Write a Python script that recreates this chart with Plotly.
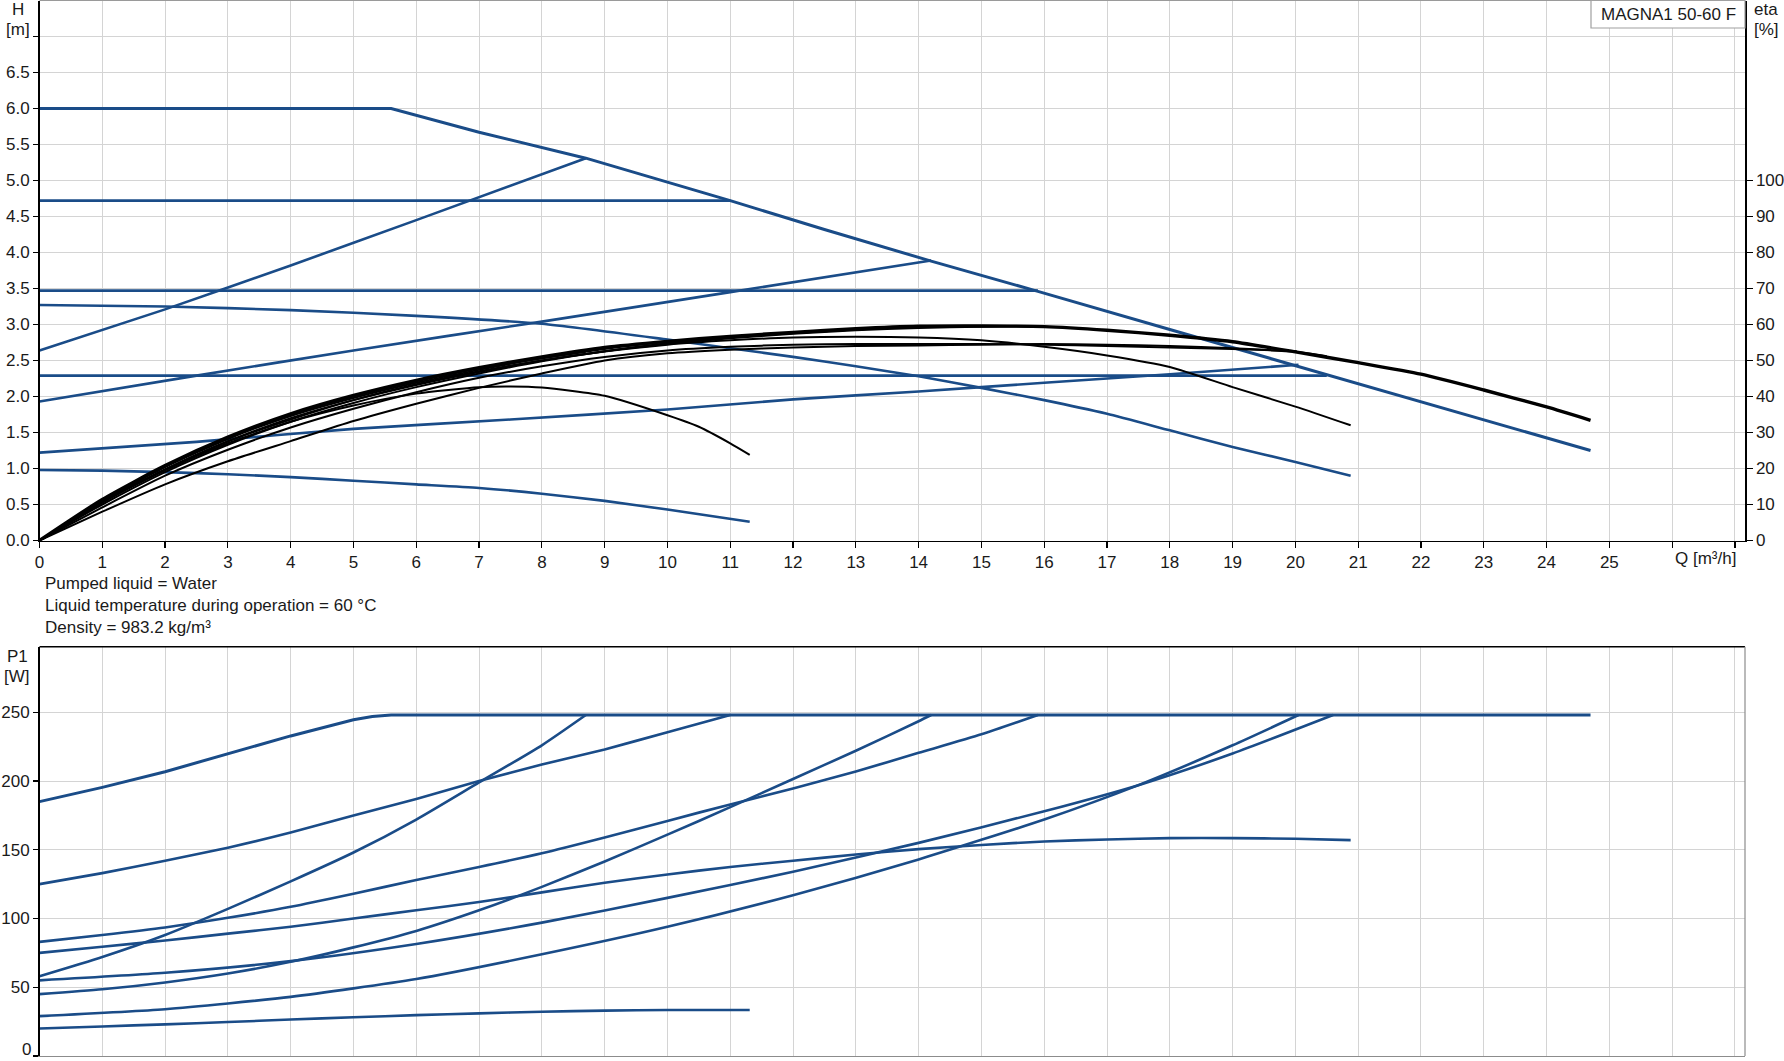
import plotly.graph_objects as go

W, H = 1784, 1061
BLUE = "#1a4c88"
GRID = "#d4d4d4"
FONT = "Arial, Liberation Sans, sans-serif"
FS = 17

# ---------------- H-Q curves (m) ----------------
q_max = [0, 5.6, 7, 8.7, 11, 12.5, 14.2, 15.9, 18, 20, 22, 24.7]
h_max = [6.0, 6.0, 5.67, 5.31, 4.72, 4.32, 3.88, 3.46, 2.93, 2.43, 1.93, 1.25]

q_c472 = [0, 11.0]
h_c472 = [4.72, 4.72]
q_c347 = [0, 15.9]
h_c347 = [3.47, 3.47]
q_c229 = [0, 20.5]
h_c229 = [2.29, 2.29]

q_pa = [0, 2, 4, 6, 8.7]
h_pa = [2.64, 3.21, 3.82, 4.45, 5.31]
q_pb = [0, 2.5, 5, 8, 11, 14.2]
h_pb = [1.93, 2.29, 2.64, 3.04, 3.45, 3.89]
q_pc = [0, 2.5, 5, 7.5, 10, 12, 14, 16, 18, 20.05]
h_pc = [1.22, 1.37, 1.55, 1.68, 1.82, 1.96, 2.07, 2.19, 2.31, 2.44]

q_d = [0, 2, 4, 6, 8, 10, 11, 12, 13, 14, 15, 16, 17, 18, 19, 20, 20.88]
h_d = [3.27, 3.25, 3.2, 3.12, 3.01, 2.79, 2.67, 2.55, 2.42, 2.28, 2.12, 1.95, 1.76, 1.53, 1.30, 1.09, 0.90]

q_e = [0, 1, 2, 3, 4, 5, 6, 7, 8, 9, 10, 11.31]
h_e = [0.98, 0.97, 0.95, 0.92, 0.88, 0.83, 0.78, 0.73, 0.65, 0.55, 0.43, 0.26]

# ---------------- efficiency curves (%) ----------------
q_eta1 = [0, 1, 2, 3, 4, 5, 6, 7, 8, 9, 10, 11, 12, 13, 14, 15, 16, 17, 18, 19, 20, 21, 22, 23, 24, 24.7]
eta1 = [0, 11.4, 20.8, 28.7, 35.2, 40.3, 44.5, 48, 51, 53.6, 55.3, 56.7, 57.8, 58.8, 59.5, 59.6, 59.4, 58.4, 57, 55.2, 52.4, 49.4, 46.2, 41.8, 37.1, 33.4]
q_eta2 = [0, 1, 2, 3, 4, 5, 6, 7, 7.5, 8, 9, 10, 10.5, 11, 11.31]
eta2 = [0, 10.5, 19.5, 27, 33, 37.5, 40.8, 42.6, 42.8, 42.5, 40.2, 34.8, 31.6, 27, 23.8]
q_eta3 = [0, 1, 2, 3, 4, 5, 6, 7, 8, 9, 10, 11, 12, 13, 14, 15, 16, 17, 18, 19, 20, 20.88]
eta3 = [0, 10.8, 19.6, 27.5, 33.6, 39, 43.4, 47, 50, 52.5, 54.4, 55.6, 56.4, 56.6, 56.4, 55.6, 53.8, 51.4, 48.2, 42.6, 37.2, 32]
q_eta4 = [0, 1, 2, 3, 4, 5, 6, 7, 8, 9, 10, 11, 12, 13, 14, 15, 16, 17, 18, 19, 20, 20.5]
eta4 = [0, 8.0, 15.6, 22, 27.6, 33.2, 38, 42.4, 46.4, 50, 52, 53, 53.6, 54, 54.2, 54.4, 54.6, 54.4, 54, 53.4, 52.4, 51.2]
q_eta5 = [0, 1, 2, 3, 4, 5, 6, 7, 8, 9, 10, 11, 12, 13, 14, 15, 16, 17, 18, 19, 20.02]
eta5 = [0, 9.2, 18, 25.2, 31.4, 36.6, 41.2, 45.2, 48.4, 51, 52.8, 53.8, 54.4, 54.6, 54.6, 54.6, 54.4, 54, 53.6, 53.2, 52.6]
q_eta6 = [0, 1, 2, 3, 4, 5, 6, 7, 8, 9, 10, 11]
eta6 = [0, 11, 20.4, 28.2, 34.6, 39.6, 43.8, 47.4, 50.6, 53.2, 55.2, 56.7]
q_eta7 = [0, 1, 2, 3, 4, 5, 6, 7, 8, 9, 10, 11, 12, 13, 14, 15, 15.9]
eta7 = [0, 10.6, 19.8, 27.6, 34, 39, 43.2, 46.8, 50, 52.6, 54.6, 56.2, 57.4, 58.4, 59, 59.4, 59.4]
q_eta8 = [0, 1, 2, 3, 4, 5, 6, 7, 8, 8.7]
eta8 = [0, 11.2, 20.6, 28.4, 35, 40, 44.2, 47.8, 50.6, 52.4]
q_eta9 = [0, 1, 2, 3, 4, 5, 6, 7, 8, 9, 10, 11, 12, 13, 14.2]
eta9 = [0, 10, 19, 26.6, 33, 38.2, 42.6, 46.4, 49.8, 52.6, 54.8, 56.4, 57.6, 58.6, 59.5]

# ---------------- power curves P1 (W) ----------------
q_pmax = [0, 1, 2, 3, 4, 5, 5.3, 5.6, 24.7]
p_max = [185, 195.4, 206.8, 219.7, 232.8, 244.5, 247, 248, 248]
q_p472 = [0, 1, 2, 3, 4, 5, 6, 7, 8, 9, 10, 11]
p_472 = [125, 133, 142, 151.5, 162.5, 175, 187, 200, 212, 223, 235.5, 248]
q_p347 = [0, 1, 2, 3, 4, 5, 6, 7, 8, 9, 10, 11, 12, 13, 14, 15, 15.9]
p_347 = [83, 88, 93.5, 100.5, 108.5, 118, 128, 137.5, 147.5, 159, 171, 183, 194.5, 207, 220.5, 234, 248]
q_pd = [0, 1, 2, 3, 4, 5, 6, 7, 8, 9, 10, 11, 12, 13, 14, 15, 16, 17, 18, 19, 20, 20.88]
p_d = [75, 79.5, 84, 89, 94, 100, 106, 112, 119, 126, 132, 137.5, 142, 146.5, 150.5, 153.5, 156, 157.5, 158.5, 158.5, 158, 157]
q_ppa = [0, 1, 2, 3, 4, 5, 6, 7, 8, 8.7]
p_pa = [58, 72, 88, 107, 127, 148, 172, 199, 226, 248]
q_p229 = [0, 2, 4, 6, 8, 10, 12, 14, 16, 17.5, 19, 20.6]
p_229 = [55, 60.5, 69, 81.5, 97, 115, 134, 155, 178, 197, 220, 248]
q_ppb = [0, 1, 2, 3, 4, 5, 6, 7, 8, 9, 10, 11, 12, 13, 14, 14.2]
p_pb = [45, 48.5, 53.5, 60, 68.5, 79, 91, 106, 123, 141.5, 161, 181, 201.5, 222, 243.5, 248]
q_ppc = [0, 2, 4, 6, 8, 10, 12, 14, 16, 17.5, 19, 20.05]
p_pc = [29, 34, 43, 56, 74, 94, 117, 143, 172, 197, 226, 248]
q_pe = [0, 1, 2, 3, 4, 5, 6, 7, 8, 9, 10, 11.31]
p_e = [20, 21.5, 23, 24.7, 26.5, 28.2, 29.7, 31, 32.2, 33, 33.5, 33.5]

q_ticks = list(range(0, 28))
q_labels = [str(i) for i in range(0, 26)] + ["", ""]
h_ticks = [i * 0.5 for i in range(0, 15)]
h_labels = [f"{v:.1f}" for v in h_ticks[:-1]] + [""]
eta_ticks = list(range(0, 101, 10))
p_ticks = list(range(0, 251, 50))
p_labels = [""] + [str(v) for v in p_ticks[1:]]

XMAX = 27.16
YMAX_H = 7.5
YMAX_P = 297.7

fig = go.Figure()


def add(x, y, color, width, xa="x", ya="y", shape="spline"):
    fig.add_trace(go.Scatter(x=x, y=y, mode="lines", xaxis=xa, yaxis=ya,
                             line=dict(color=color, width=width, shape=shape,
                                       smoothing=0.6),
                             hoverinfo="skip", showlegend=False))


for qx, ey, w in [(q_eta2, eta2, 2.0), (q_eta3, eta3, 2.0), (q_eta4, eta4, 2.0),
                  (q_eta5, eta5, 2.0), (q_eta6, eta6, 2.0), (q_eta7, eta7, 2.0),
                  (q_eta8, eta8, 2.0), (q_eta9, eta9, 2.0), (q_eta1, eta1, 3.4)]:
    add(qx, ey, "black", w, ya="y2")

add(q_max, h_max, BLUE, 3.0, shape="linear")
for qx, hy in [(q_c472, h_c472), (q_c347, h_c347), (q_c229, h_c229),
               (q_pa, h_pa), (q_pb, h_pb), (q_pc, h_pc), (q_d, h_d), (q_e, h_e)]:
    add(qx, hy, BLUE, 2.6)

add(q_pmax, p_max, BLUE, 3.0, xa="x2", ya="y3", shape="linear")
for qx, py_ in [(q_p472, p_472), (q_p347, p_347), (q_pd, p_d), (q_ppa, p_pa),
                (q_p229, p_229), (q_ppb, p_pb), (q_ppc, p_pc), (q_pe, p_e)]:
    add(qx, py_, BLUE, 2.6, xa="x2", ya="y3")


def fx(px):
    return px / W


def fy(py):
    return 1 - py / H


X0, X1 = 39.5, 1745
TOP_Y0, TOP_Y1 = 0.5, 540.5
BOT_Y0, BOT_Y1 = 646.7, 1056

tickfont = dict(family=FONT, size=FS, color="#1a1a1a")

fig.update_layout(
    width=W, height=H, autosize=False,
    margin=dict(l=0, r=0, t=0, b=0, pad=0, autoexpand=False),
    paper_bgcolor="white", plot_bgcolor="white",
    font=dict(family=FONT, size=FS, color="#1a1a1a"),
    xaxis=dict(domain=[fx(X0), fx(X1)], range=[0, XMAX], anchor="y",
               tickmode="array", tickvals=q_ticks, ticktext=q_labels,
               showgrid=True, gridcolor=GRID, gridwidth=1, zeroline=False,
               showline=True, linecolor="black", linewidth=1.5,
               ticks="outside", ticklen=6, tickcolor="black", tickwidth=1.2,
               tickfont=tickfont, automargin=False),
    yaxis=dict(domain=[fy(TOP_Y1), fy(TOP_Y0)], range=[0, YMAX_H], anchor="x",
               tickmode="array", tickvals=h_ticks, ticktext=h_labels,
               showgrid=True, gridcolor=GRID, gridwidth=1, zeroline=False,
               showline=True, linecolor="black", linewidth=1.5,
               ticks="outside", ticklen=5, tickcolor="black", tickwidth=1.2,
               tickfont=tickfont, automargin=False),
    yaxis2=dict(overlaying="y", side="right", anchor="x", range=[0, 150],
                tickmode="array", tickvals=eta_ticks,
                showgrid=False, zeroline=False,
                showline=True, linecolor="black", linewidth=1.5,
                ticks="outside", ticklen=6, tickcolor="black", tickwidth=1.2,
                tickfont=tickfont, automargin=False),
    xaxis2=dict(domain=[fx(X0), fx(X1)], range=[0, XMAX], anchor="y3",
                tickmode="array", tickvals=q_ticks, showticklabels=False,
                showgrid=True, gridcolor=GRID, gridwidth=1, zeroline=False,
                showline=True, linecolor="#8c8c8c", linewidth=1.2, ticks="",
                automargin=False),
    yaxis3=dict(domain=[fy(BOT_Y1), fy(BOT_Y0)], range=[0, YMAX_P], anchor="x2",
                tickmode="array", tickvals=p_ticks, ticktext=p_labels,
                showgrid=True, gridcolor=GRID, gridwidth=1, zeroline=False,
                showline=True, linecolor="black", linewidth=1.5,
                ticks="outside", ticklen=5, tickcolor="black", tickwidth=1.2,
                tickfont=tickfont, automargin=False,
                ticklabeloverflow="allow"),
)

shapes = [
    dict(type="line", xref="paper", yref="paper", x0=fx(X0), x1=fx(X1),
         y0=fy(TOP_Y0), y1=fy(TOP_Y0),
         line=dict(color="#9a9a9a", width=1.2)),
    dict(type="line", xref="paper", yref="paper", x0=fx(X0), x1=fx(X1),
         y0=fy(BOT_Y0), y1=fy(BOT_Y0), line=dict(color="black", width=1.5)),
    dict(type="line", xref="paper", yref="paper", x0=fx(X1), x1=fx(X1),
         y0=fy(BOT_Y1), y1=fy(BOT_Y0), line=dict(color="#8c8c8c", width=1.2)),
    dict(type="rect", xref="paper", yref="paper", x0=fx(1591), x1=fx(X1),
         y0=fy(28), y1=fy(0.5), line=dict(color="#a0a0a0", width=1.2),
         fillcolor="white", layer="above"),
]
fig.update_layout(shapes=shapes)

ann = []


def text(x, y, s, anchor="center", size=FS, yanchor="middle"):
    ann.append(dict(x=fx(x), y=fy(y), xref="paper", yref="paper", text=s,
                    showarrow=False, xanchor=anchor, yanchor=yanchor,
                    font=dict(family=FONT, size=size, color="#1a1a1a")))


text(18, 10, "H")
text(18, 29, "[m]")
text(1766, 10, "eta")
text(1766, 29, "[%]")
text(1705, 558, "Q [m³/h]")
text(1668, 14, "MAGNA1 50-60 F")
text(43, 583, "Pumped liquid = Water", anchor="left")
text(43, 605, "Liquid temperature during operation = 60 °C", anchor="left")
text(43, 627, "Density = 983.2 kg/m³", anchor="left")
text(17, 656, "P1")
text(17, 676, "[W]")
# the "0" tick label of the power axis, kept fully inside the page
text(33, 1061, "0", anchor="right", yanchor="bottom")
fig.update_layout(annotations=ann)

fig.write_html(
    "out.html",
    config={"displayModeBar": False, "responsive": False, "staticPlot": True},
    post_script="document.body.style.margin='0px';document.body.style.padding='0px';"
                "document.body.style.overflow='hidden';",
)
